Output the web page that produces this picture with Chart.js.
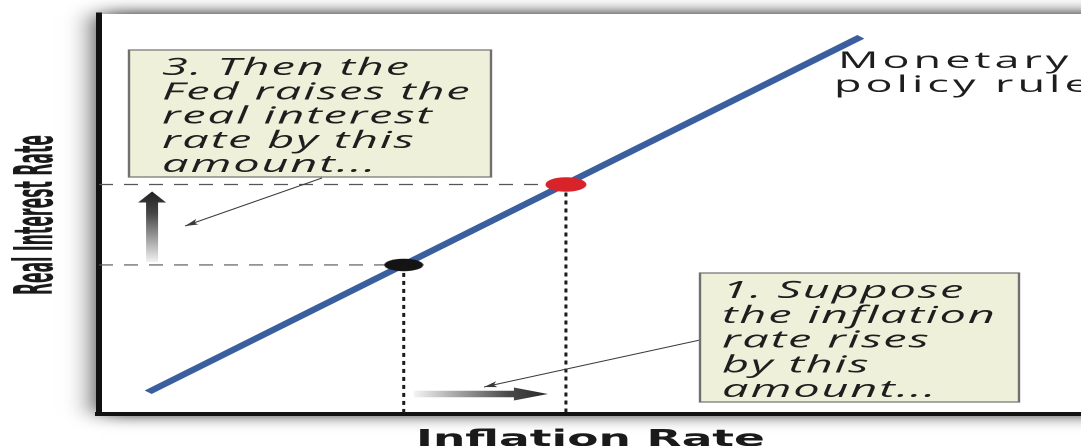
<!DOCTYPE html>
<html>
<head>
<meta charset="utf-8">
<script src="https://cdn.jsdelivr.net/npm/chart.js@4.4.1/dist/chart.umd.min.js"></script>
<style>
  html, body { margin: 0; padding: 0; background: #fff; overflow: hidden; }
  /* the figure is drawn narrow and stretched out wide */
  #wrap { width: 541px; height: 446px; transform: scaleX(2); transform-origin: 0 0; }
</style>
</head>
<body>
<div id="wrap"><canvas id="chart" width="541" height="446"></canvas></div>
<script>
(function () {
  // policy rule line (inflation -> real interest rate)
  const ruleX = [0.5, 7.75];
  const ruleY = [0.55, 9.43];
  // starting point and point after the inflation rise
  const inflation = [3.1, 4.75];
  const realRate = [3.73, 5.74];
  const pointColors = ['#141414', '#d8232a'];

  const note3 = ['3. Then the', 'Fed raises the', 'real interest', 'rate by this', 'amount...'];
  const note1 = ['1. Suppose', 'the inflation', 'rate rises', 'by this', 'amount...'];
  const ruleLabel = ['Monetary', 'policy rule'];
  const xTitle = 'Inflation Rate';
  const yTitle = 'Real Interest Rate';

  const FONT = '"DejaVu Sans", sans-serif';
  const NOTE_FONT = '"Open Sans", "DejaVu Sans", sans-serif';

  // ellipse marker, drawn at backing resolution
  function ellipse(color, w, h) {
    const c = document.createElement('canvas');
    c.width = w * 2; c.height = h * 2;
    const g = c.getContext('2d');
    g.fillStyle = color;
    g.beginPath();
    g.ellipse(w, h, w - 0.5, h - 0.5, 0, 0, Math.PI * 2);
    g.fill();
    const img = new Image();
    return new Promise(resolve => {
      img.onload = () => { img.width = w; img.height = h; resolve(img); };
      img.src = c.toDataURL();
    });
  }

  function noteBox(ctx, b, lines) {
    ctx.fillStyle = '#eff0da';
    ctx.strokeStyle = '#707070';
    ctx.lineWidth = 1.2;
    ctx.fillRect(b.x, b.y, b.w, b.h);
    ctx.strokeRect(b.x, b.y, b.w, b.h);
    ctx.font = 'italic 23.5px ' + NOTE_FONT;
    ctx.letterSpacing = '0.9px';
    ctx.fillStyle = '#1e1e1e';
    ctx.textAlign = 'left';
    ctx.textBaseline = 'alphabetic';
    lines.forEach((t, i) => ctx.fillText(t, b.tx, b.ty + i * b.lh));
    ctx.letterSpacing = '0px';
  }

  // thin pointer line with a small head, in unstretched coordinates
  function leader(ctx, x1, y1, x2, y2) {
    ctx.save();
    ctx.scale(0.5, 1);
    ctx.strokeStyle = '#3a3a3a';
    ctx.fillStyle = '#3a3a3a';
    ctx.lineWidth = 1;
    ctx.beginPath();
    ctx.moveTo(x1, y1);
    ctx.lineTo(x2, y2);
    ctx.stroke();
    const a = Math.atan2(y2 - y1, x2 - x1);
    const len = 13, hw = 3;
    ctx.translate(x2, y2);
    ctx.rotate(a);
    ctx.beginPath();
    ctx.moveTo(0, 0);
    ctx.lineTo(-len, -hw);
    ctx.lineTo(-len + 3, 0);
    ctx.lineTo(-len, hw);
    ctx.closePath();
    ctx.fill();
    ctx.restore();
  }

  const annotate = {
    id: 'annotate',
    beforeDraw(chart) {
      const { ctx, chartArea: a, width, height } = chart;
      ctx.save();
      ctx.fillStyle = '#fff';
      ctx.fillRect(0, 0, width, height);
      // soft drop shadow around the plot panel
      ctx.shadowColor = 'rgba(0,0,0,0.95)';
      ctx.shadowBlur = 30;
      ctx.fillRect(a.left, a.top, a.right - a.left + 60, a.bottom - a.top);
      ctx.restore();
    },
    afterDraw(chart) {
      const { ctx, scales: { x, y } } = chart;
      const px0 = x.getPixelForValue(inflation[0]);
      const px1 = x.getPixelForValue(inflation[1]);
      const py0 = y.getPixelForValue(realRate[0]);
      const py1 = y.getPixelForValue(realRate[1]);
      ctx.save();

      // vertical arrow: rise of the real interest rate
      const ax = x.getPixelForValue(0.54);
      const tip = py1 + 7, base = py0 - 3, head = 11;
      let grad = ctx.createLinearGradient(0, tip, 0, base);
      grad.addColorStop(0, '#222');
      grad.addColorStop(0.3, '#444');
      grad.addColorStop(1, '#f2f2f2');
      ctx.fillStyle = grad;
      ctx.beginPath();
      ctx.moveTo(ax, tip);
      ctx.lineTo(ax + 7, tip + head);
      ctx.lineTo(ax + 3, tip + head);
      ctx.lineTo(ax + 3, base);
      ctx.lineTo(ax - 3, base);
      ctx.lineTo(ax - 3, tip + head);
      ctx.lineTo(ax - 7, tip + head);
      ctx.closePath();
      ctx.fill();

      // horizontal arrow: rise of inflation
      const ay = 394;
      const x0 = px0 + 5, x1 = px1 - 9, hl = 17;
      grad = ctx.createLinearGradient(x0, 0, x1, 0);
      grad.addColorStop(0, '#f4f4f4');
      grad.addColorStop(0.7, '#4a4a4a');
      grad.addColorStop(1, '#2a2a2a');
      ctx.fillStyle = grad;
      ctx.beginPath();
      ctx.moveTo(x1, ay);
      ctx.lineTo(x1 - hl, ay - 6.5);
      ctx.lineTo(x1 - hl, ay - 3.2);
      ctx.lineTo(x0, ay - 3.2);
      ctx.lineTo(x0, ay + 3.2);
      ctx.lineTo(x1 - hl, ay + 3.2);
      ctx.lineTo(x1 - hl, ay + 6.5);
      ctx.closePath();
      ctx.fill();

      leader(ctx, 322, 178, 185, 226);
      leader(ctx, 700, 340, 484, 387);

      noteBox(ctx, { x: 64.5, y: 50, w: 181, h: 127, tx: 81, ty: 75, lh: 24.3 }, note3);
      noteBox(ctx, { x: 350, y: 273, w: 159.5, h: 129, tx: 361, ty: 298, lh: 24.75 }, note1);

      ctx.font = '22.5px ' + NOTE_FONT;
      ctx.letterSpacing = '2px';
      ctx.fillStyle = '#1e1e1e';
      ctx.textAlign = 'left';
      ctx.fillText(ruleLabel[0], 419, 68);
      ctx.fillText(ruleLabel[1], 417, 92);
      ctx.letterSpacing = '0px';

      // rotated, condensed y-axis title
      ctx.font = 'bold 27px ' + FONT;
      const w = ctx.measureText(yTitle).width;
      ctx.translate(26, 215);
      ctx.rotate(-Math.PI / 2);
      ctx.scale(160 / w, 1);
      ctx.textAlign = 'center';
      ctx.fillStyle = '#1a1a1a';
      ctx.fillText(yTitle, 0, 0);
      ctx.restore();
    }
  };

  Promise.all([ellipse(pointColors[0], 20, 13), ellipse(pointColors[1], 21, 15)]).then(markers => {
    const datasets = [];
    datasets.push({
      data: inflation.map((v, i) => ({ x: v, y: realRate[i] })),
      pointStyle: markers,
      pointRadius: 8,
      showLine: false
    });
    datasets.push({
      data: ruleX.map((v, i) => ({ x: v, y: ruleY[i] })),
      borderColor: '#3b5f9e',
      borderWidth: 5,
      borderCapStyle: 'butt',
      showLine: true,
      pointRadius: 0
    });
    inflation.forEach((v, i) => {
      datasets.push({
        data: [{ x: 0, y: realRate[i] }, { x: v, y: realRate[i] }],
        borderColor: '#555',
        borderWidth: 1.2,
        borderDash: [7, 5.5],
        showLine: true,
        pointRadius: 0
      });
      datasets.push({
        data: [{ x: v, y: realRate[i] }, { x: v, y: 0 }],
        borderColor: '#1c1c1c',
        borderWidth: 1.5,
        borderDash: [4, 4],
        showLine: true,
        pointRadius: 0
      });
    });

    new Chart(document.getElementById('chart'), {
      type: 'scatter',
      data: { datasets },
      options: {
        responsive: false,
        devicePixelRatio: 2,
        animation: false,
        events: [],
        layout: { autoPadding: false, padding: { left: 49.5, top: 14, right: 0, bottom: 0 } },
        plugins: { legend: { display: false }, tooltip: { enabled: false } },
        scales: {
          x: {
            type: 'linear', min: 0, max: 10,
            grid: { display: false, drawTicks: false },
            ticks: { display: false },
            border: { display: true, color: '#121212', width: 4 },
            title: {
              display: true, text: xTitle, color: '#1a1a1a',
              font: { family: FONT, size: 22.75, weight: 'bold', lineHeight: 0.5 },
              padding: { top: 20.4, bottom: 0 }
            }
          },
          y: {
            type: 'linear', min: 0, max: 10,
            grid: { display: false, drawTicks: false },
            ticks: { display: false },
            border: { display: true, color: '#121212', width: 3 }
          }
        }
      },
      plugins: [annotate]
    });
  });
})();
</script>
</body>
</html>
